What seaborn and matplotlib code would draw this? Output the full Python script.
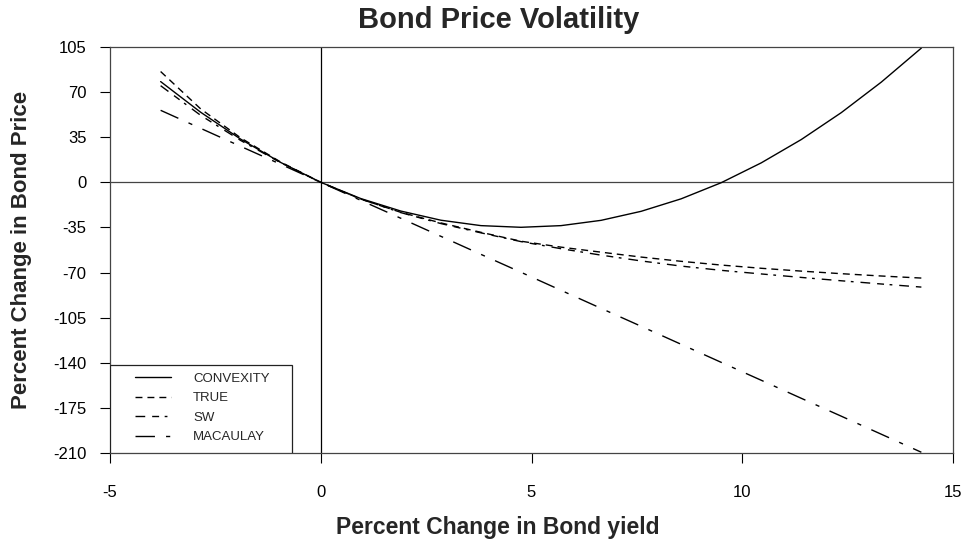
import pandas as pd
import matplotlib
matplotlib.use('Agg')
import matplotlib.pyplot as plt
from matplotlib.patches import Rectangle
import seaborn as sns

# === Data ===
yield_change = [-3.8, -2.85, -1.9, -0.95, 0, 0.95, 1.9, 2.85, 3.8, 4.75,
                5.7, 6.65, 7.6, 8.55, 9.5, 10.45, 11.4, 12.35, 13.3, 14.25]

convexity = [78.2, 54.4, 33.5, 15.4, 0, -12.6, -22.3, -29.4, -33.6, -34.9,
             -33.6, -29.5, -22.5, -12.8, -0.3, 15.1, 33.2, 54.1, 77.8, 104.2]
true_chg = [86, 57, 34.5, 15.7, 0, -13, -23.3, -31.5, -38.8, -45.7,
            -50.3, -54.2, -58, -61.3, -64.2, -66.7, -68.9, -70.9, -72.7, -74.3]
sw = [75, 52, 32.5, 15.2, 0, -13, -23.5, -32, -39.2, -46,
      -51.5, -56.5, -61, -65, -68.3, -71.1, -73.8, -76.4, -78.9, -81.3]
macaulay = [55.9, 41.9, 27.9, 14.0, 0, -14.0, -27.9, -41.9, -55.9, -69.8,
            -83.8, -97.8, -111.7, -125.7, -139.7, -153.6, -167.6, -181.5, -195.5, -209.5]

series_names = ['CONVEXITY', 'TRUE', 'SW', 'MACAULAY']
x_ticks = [-5, 0, 5, 10, 15]
y_ticks = [-210, -175, -140, -105, -70, -35, 0, 35, 70, 105]

df = pd.DataFrame({
    'yield': yield_change * 4,
    'price': convexity + true_chg + sw + macaulay,
    'series': sum([[n] * len(yield_change) for n in series_names], []),
})

# === Plot ===
sns.set_style('white')
plt.rcParams['font.family'] = ['Liberation Sans', 'DejaVu Sans']
plt.rcParams['axes.unicode_minus'] = False

fig = plt.figure(figsize=(9.67, 5.47), dpi=100)
ax = fig.add_axes([0.1138, 0.172, 0.8717, 0.742])

dash_styles = {
    'CONVEXITY': '',
    'TRUE': (5, 3.6),
    'SW': (7, 5, 5, 4, 2, 5),
    'MACAULAY': (14, 8, 3, 8),
}
sns.lineplot(data=df, x='yield', y='price', hue='series', style='series',
             hue_order=series_names, style_order=series_names,
             palette=['black'] * 4, dashes=dash_styles, linewidth=1.0,
             ax=ax, legend=False, sort=False)

ax.axhline(0, color='#444444', linewidth=0.9, zorder=1)
ax.axvline(0, color='black', linewidth=0.9, zorder=1)

ax.set_xlim(-5, 15)
ax.set_ylim(-210, 105)
ax.set_xticks(x_ticks)
ax.set_yticks(y_ticks)
ax.tick_params(axis='both', direction='out', length=7, width=0.8,
               labelsize=12, colors='black', left=True, bottom=True)
ax.tick_params(axis='x', pad=16)
ax.tick_params(axis='y', pad=10)
for side in ['left', 'bottom', 'top', 'right']:
    ax.spines[side].set_visible(True)
    ax.spines[side].set_color('#444444')
    ax.spines[side].set_linewidth(0.9)
ax.set_xlabel('')
ax.set_ylabel('')

# legend box tucked into the lower-left corner
ax.add_patch(Rectangle((0, 0), 0.216, 0.217, transform=ax.transAxes,
                       facecolor='white', edgecolor='#222222',
                       linewidth=0.9, zorder=5))
handles = ax.get_lines()[:4]
leg = ax.legend(handles, series_names, loc='center left',
                bbox_to_anchor=(0.0297, 0.111), fontsize=9.5,
                frameon=False, borderpad=0, borderaxespad=0,
                handlelength=2.75, handletextpad=1.65, labelspacing=0.55)
leg.set_zorder(6)

fig.text(0.516, 0.963, 'Bond Price Volatility', ha='center', va='center',
         fontsize=21, fontweight='bold')
fig.text(0.515, 0.036, 'Percent Change in Bond yield', ha='center',
         va='center', fontsize=16.5, fontweight='bold')
fig.text(0.022, 0.543, 'Percent Change in Bond Price', ha='center',
         va='center', rotation=90, fontsize=16, fontweight='bold')

plt.savefig('out.png', dpi=100)
plt.close()
